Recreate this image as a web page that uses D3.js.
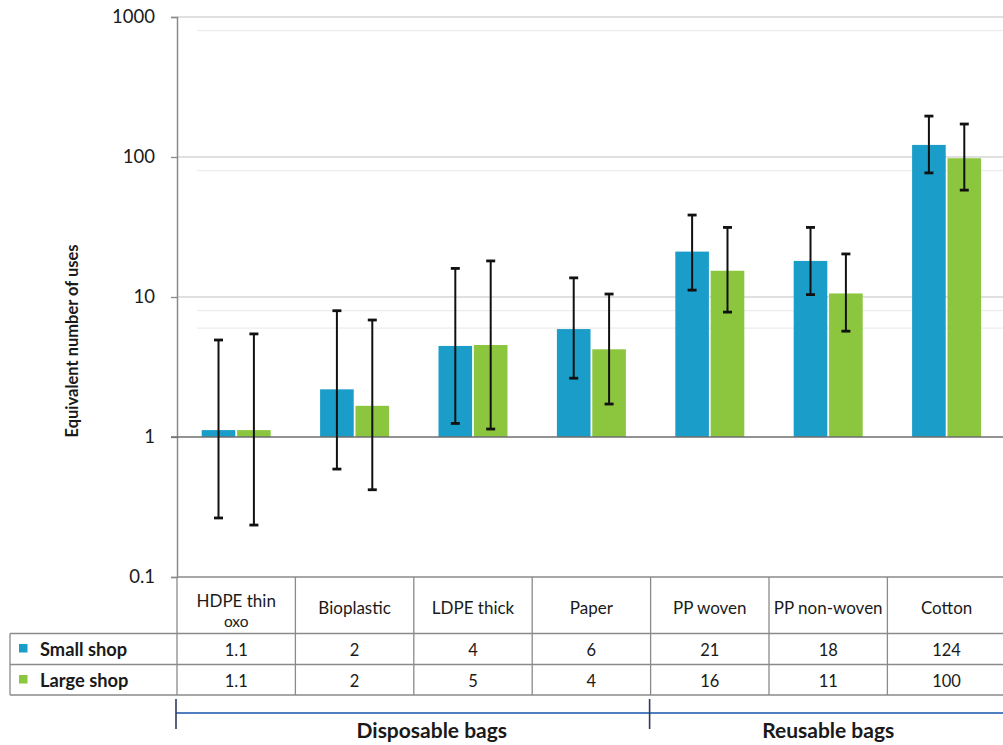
<!DOCTYPE html>
<html>
<head>
<meta charset="utf-8">
<script src="https://cdn.jsdelivr.net/npm/d3@7"></script>
<style>
  html, body { margin: 0; padding: 0; background: #fff; }
  svg { display: block; }
  text { font-family: Lato, "Open Sans", sans-serif; fill: #1a1a1a; }
</style>
</head>
<body>
<svg id="chart" width="1003" height="745"></svg>
<script>
// ---------- data ----------
const categories = ["HDPE thin oxo", "Bioplastic", "LDPE thick", "Paper", "PP woven", "PP non-woven", "Cotton"];
const categoryLines = [["HDPE thin", "oxo"], ["Bioplastic"], ["LDPE thick"], ["Paper"], ["PP woven"], ["PP non-woven"], ["Cotton"]];
const seriesNames = ["Small shop", "Large shop"];
const smallShop = [1.12, 2.19, 4.47, 5.9, 21.1, 18.1, 122];
const largeShop = [1.12, 1.67, 4.54, 4.23, 15.4, 10.6, 98];
const smallLow  = [0.264, 0.59, 1.25, 2.63, 11.2, 10.4, 77];
const smallHigh = [4.93, 7.98, 16.0, 13.7, 38.5, 31.4, 196];
const largeLow  = [0.235, 0.42, 1.14, 1.72, 7.8, 5.7, 58];
const largeHigh = [5.45, 6.85, 18.1, 10.5, 31.4, 20.3, 172];
const smallShopLabels = ["1.1", "2", "4", "6", "21", "18", "124"];
const largeShopLabels = ["1.1", "2", "5", "4", "16", "11", "100"];
const yTicks = [0.1, 1, 10, 100, 1000];
const yTickLabels = ["0.1", "1", "10", "100", "1000"];
const minorGrid = [800, 80, 8, 6];
const groupNames = ["Disposable bags", "Reusable bags"];
const groupStart = [0, 4];
const groupEnd = [4, 7];

const colors = { "Small shop": "#1a9dc8", "Large shop": "#8cc63f" };

// ---------- layout ----------
const svg = d3.select("#chart");
const axisX = 177, plotTop = 17, plotBottom = 577;
const colW = 118.4;

const x = d3.scaleBand().domain(categories).range([axisX, axisX + colW * categories.length]).padding(0);
const bw = x.bandwidth();
const xs = d3.scaleBand().domain(seriesNames).range([bw / 2 - 34.5, bw / 2 + 34.5]).paddingInner(0.05);
const y = d3.scaleLog().domain([0.1, 1000]).range([plotBottom, plotTop]);

const rows = seriesNames.map((s, si) => categories.map((c, i) => ({
  series: s, cat: c,
  value: si === 0 ? smallShop[i] : largeShop[i],
  low: si === 0 ? smallLow[i] : largeLow[i],
  high: si === 0 ? smallHigh[i] : largeHigh[i]
})));

// minor faint grid
svg.append("g").selectAll("line").data(minorGrid).join("line")
  .attr("x1", axisX + 20).attr("x2", 1003)
  .attr("y1", d => y(d)).attr("y2", d => y(d))
  .attr("stroke", "#ececec").attr("stroke-width", 1.2);

// major grid
svg.append("g").selectAll("line").data([10, 100, 1000]).join("line")
  .attr("x1", axisX).attr("x2", 1003)
  .attr("y1", d => y(d)).attr("y2", d => y(d))
  .attr("stroke", "#d6d6d6").attr("stroke-width", 1.3);

// y axis
const yAxis = d3.axisLeft(y).tickValues(yTicks).tickFormat((d, i) => yTickLabels[i]).tickSize(6).tickPadding(16);
const ya = svg.append("g").attr("transform", `translate(${axisX},0)`).call(yAxis);
ya.select(".domain").attr("stroke", "#8a8a8a").attr("stroke-width", 1.5);
ya.selectAll(".tick line").attr("stroke", "#8a8a8a").attr("stroke-width", 1.3);
ya.selectAll(".tick text").style("font-family", "Lato, sans-serif").style("font-size", "18.5px").attr("fill", "#1a1a1a");

// bars (drawn from 1)
const g = svg.append("g");
rows.forEach(series => {
  g.selectAll(null).data(series).join("rect")
    .attr("x", d => x(d.cat) + xs(d.series))
    .attr("width", xs.bandwidth())
    .attr("y", d => y(d.value))
    .attr("height", d => y(1) - y(d.value))
    .attr("fill", d => colors[d.series]);
});

// baseline at 1
svg.append("line").attr("x1", axisX - 6).attr("x2", 1003)
  .attr("y1", y(1)).attr("y2", y(1)).attr("stroke", "#6e6e6e").attr("stroke-width", 1.4);

// error bars
rows.forEach(series => {
  const eg = svg.append("g").attr("stroke", "#111").attr("stroke-width", 2);
  series.forEach(d => {
    const cx = x(d.cat) + xs(d.series) + xs.bandwidth() / 2;
    eg.append("line").attr("x1", cx).attr("x2", cx).attr("y1", y(d.low)).attr("y2", y(d.high));
    eg.append("line").attr("x1", cx - 4.5).attr("x2", cx + 4.5).attr("y1", y(d.high)).attr("y2", y(d.high)).attr("stroke-width", 2.8);
    eg.append("line").attr("x1", cx - 4.5).attr("x2", cx + 4.5).attr("y1", y(d.low)).attr("y2", y(d.low)).attr("stroke-width", 2.8);
  });
});

// y-axis title
svg.append("text")
  .attr("transform", `translate(78,341) rotate(-90)`)
  .attr("text-anchor", "middle")
  .style("font-size", "16.5px").style("font-weight", "bold")
  .text("Equivalent number of uses");

// ---------- data table ----------
const tTop = plotBottom, hdrBot = 633.5, r1Bot = 664.5, r2Bot = 695, tLeft = 10;
const xEnd = axisX + colW * categories.length;
const tbl = svg.append("g").attr("stroke", "#8a8a8a").attr("stroke-width", 1.3);
tbl.append("line").attr("x1", axisX).attr("x2", 1003).attr("y1", tTop).attr("y2", tTop);
[hdrBot, r1Bot, r2Bot].forEach(yy => tbl.append("line").attr("x1", tLeft).attr("x2", 1003).attr("y1", yy).attr("y2", yy));
tbl.append("line").attr("x1", tLeft).attr("x2", tLeft).attr("y1", hdrBot).attr("y2", r2Bot);
categories.forEach(c => {
  tbl.append("line").attr("x1", x(c)).attr("x2", x(c)).attr("y1", tTop).attr("y2", r2Bot);
});
tbl.append("line").attr("x1", xEnd).attr("x2", xEnd).attr("y1", tTop).attr("y2", r2Bot);

// header labels
categories.forEach((c, i) => {
  const lines = categoryLines[i];
  const cx = x(c) + bw / 2;
  const t = svg.append("text").attr("text-anchor", "middle").style("font-size", "17px");
  if (lines.length === 1) {
    t.append("tspan").attr("x", cx).attr("y", 614).text(lines[0]);
  } else {
    t.append("tspan").attr("x", cx).attr("y", 607).text(lines[0]);
    t.append("tspan").attr("x", cx).attr("y", 627).style("font-size", "15.5px").text(lines[1]);
  }
});

// value rows
[smallShopLabels, largeShopLabels].forEach((labels, ri) => {
  const by = ri === 0 ? 656 : 687;
  svg.append("g").selectAll("text").data(labels).join("text")
    .attr("x", (d, i) => x(categories[i]) + bw / 2)
    .attr("y", by)
    .attr("text-anchor", "middle")
    .style("font-size", "16.5px")
    .text(d => d);
  // legend key
  svg.append("rect").attr("x", 19).attr("y", by - 12).attr("width", 8.5).attr("height", 8.5)
    .attr("fill", colors[seriesNames[ri]]);
  svg.append("text").attr("x", 40).attr("y", by - 0.5)
    .style("font-size", "18.3px").style("font-weight", "bold")
    .text(seriesNames[ri]);
});

// ---------- group brackets ----------
svg.append("line").attr("x1", axisX - 1).attr("x2", 1003).attr("y1", 713).attr("y2", 713)
  .attr("stroke", "#4f7fbf").attr("stroke-width", 1.8);
const bracketX = groupStart.map(s => x(categories[s]));
svg.append("g").selectAll("line").data(bracketX).join("line")
  .attr("x1", d => d - 1).attr("x2", d => d - 1).attr("y1", 699).attr("y2", 729)
  .attr("stroke", "#2e3a5c").attr("stroke-width", 1.6);
const groupDx = [18, 0];
groupNames.forEach((n, i) => {
  const x0 = x(categories[groupStart[i]]);
  const x1 = groupEnd[i] < categories.length ? x(categories[groupEnd[i]]) : xEnd;
  svg.append("text").attr("x", (x0 + x1) / 2 + groupDx[i]).attr("y", 738)
    .attr("text-anchor", "middle")
    .style("font-size", "21px").style("font-weight", "bold")
    .text(n);
});
</script>
</body>
</html>
